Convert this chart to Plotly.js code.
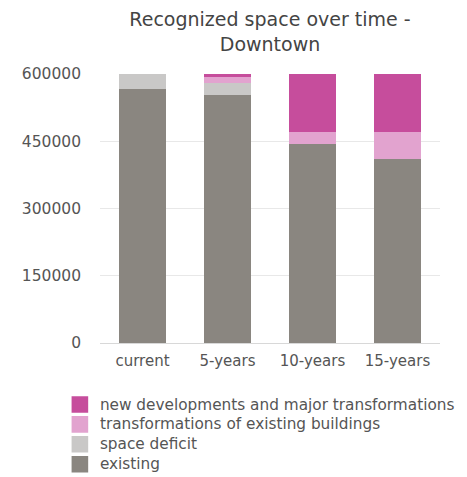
<!DOCTYPE html>
<html>
<head>
<meta charset="utf-8">
<script src="https://cdn.plot.ly/plotly-3.0.1.min.js"></script>
<style>
html,body{margin:0;padding:0;background:#fff;}
#chart{width:467px;height:477px;}
.legendtext{font-size:15.3px !important;}
#chart .legend .legendpoints path{d:path("M8.3,8.3H-8.3V-8.3H8.3Z") !important;}
</style>
</head>
<body>
<div id="chart"></div>
<script>
const categories = ["current", "5-years", "10-years", "15-years"];
const existing = [567000, 554000, 443000, 410000];
const spaceDeficit = [33000, 25000, 0, 0];
const transformations = [0, 14000, 27000, 60000];
const newDevelopments = [0, 7000, 130000, 130000];
const seriesNames = ["existing", "space deficit", "transformations of existing buildings", "new developments and major transformations"];
const seriesColors = ["#8a8680", "#c9c8c7", "#e2a3cf", "#c64d9c"];
const yTicks = [0, 150000, 300000, 450000, 600000];

const seriesValues = [existing, spaceDeficit, transformations, newDevelopments];
const traces = seriesValues.map((vals, i) => ({
  type: "bar",
  x: categories,
  y: vals,
  name: seriesNames[i],
  marker: { color: seriesColors[i] },
  hoverinfo: "x+y+name"
}));

const font = "DejaVu Sans, Verdana, sans-serif";
const layout = {
  width: 467,
  height: 477,
  barmode: "stack",
  bargap: 0.455,
  margin: { l: 100, r: 27, t: 74, b: 134, autoexpand: false },
  paper_bgcolor: "#fff",
  plot_bgcolor: "#fff",
  font: { family: font, color: "#555", size: 15 },
  title: {
    text: "Recognized space over time -<br>Downtown",
    font: { family: font, size: 19, color: "#444" },
    x: 0.5,
    xref: "paper",
    xanchor: "center",
    y: 0.945,
    yref: "container",
    yanchor: "top"
  },
  xaxis: {
    type: "category",
    tickfont: { family: font, size: 15, color: "#555" },
    showgrid: false,
    showline: true,
    linecolor: "#d8d8d8",
    linewidth: 1,
    ticks: "",
    ticklabelstandoff: 4
  },
  yaxis: {
    range: [0, 600000],
    tickvals: yTicks,
    ticktext: yTicks.map(String),
    tickfont: { family: font, size: 15.5, color: "#555" },
    showgrid: true,
    gridcolor: "#e8e8e8",
    gridwidth: 1,
    zeroline: false,
    showline: false,
    ticks: "",
    ticklabelstandoff: 18
  },
  legend: {
    orientation: "v",
    traceorder: "reversed",
    x: -0.118,
    xanchor: "left",
    y: -0.173,
    yanchor: "top",
    font: { family: font, size: 13, color: "#555" },
    bgcolor: "rgba(0,0,0,0)",
    itemclick: false
  },
  showlegend: true
};

Plotly.newPlot("chart", traces, layout, { displayModeBar: false, staticPlot: true });
</script>
</body>
</html>
